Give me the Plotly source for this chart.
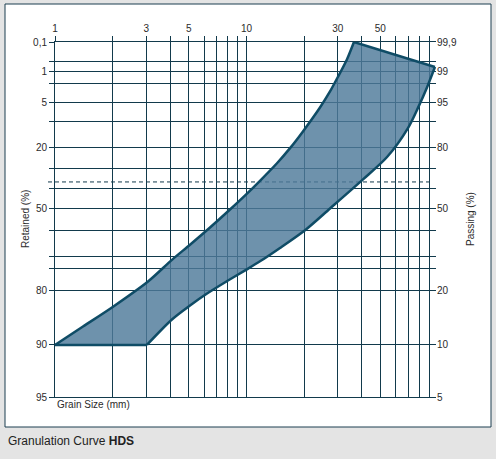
import numpy as np
import plotly.graph_objects as go

# grain size grid (mm), log scale
size_grid = [1, 2, 3, 4, 5, 6, 7, 8, 9, 10, 20, 30, 40, 50, 60, 70, 80, 90]
size_labels = ['1', '', '3', '', '5', '', '', '', '', '10', '', '30', '', '50', '', '', '', '']

# RRSB grid, retained % (left) / passing % (right)
retained_major = [0.1, 1, 5, 20, 50, 80, 90, 95]
retained_labels = ['0,1', '1', '5', '20', '50', '80', '90', '95']
passing_labels = ['99,9', '99', '95', '80', '50', '20', '10', '5']
retained_minor = [0.5, 2, 10, 30, 40, 60, 70, 74]
retained_char = 36.79  # dashed line (63.2 % passing)

# band limits
fine_size = [1, 1.4, 2.01, 3.06, 4.08, 5.07, 6.45, 8.2, 10.06, 11.76, 14.43, 16.88,
             19.72, 24.2, 27.3, 30.05, 33.5, 36.4]
fine_retained = [90, 87.3, 83.65, 77.66, 71.1, 65.7, 58.7, 50.5, 42.7, 36.2, 27.4, 20.3,
                 13.4, 6.1, 3.05, 1.39, 0.43, 0.1]
coarse_size = [96.4, 87.6, 78.6, 69.7, 54.2, 40.6, 27.3, 20.45, 14.96, 11.76, 9.94,
               8.01, 6.14, 5.07, 4.08, 3.02]
coarse_retained = [0.75, 2.5, 6.2, 12.2, 24.4, 35.5, 50.0, 59.5, 66.9, 71.6, 74.3,
                   77.4, 80.9, 83.4, 86.1, 90]


def rrsb(r):
    # RRSB ordinate: ln(1/R), shown on a log axis
    return np.log(100.0 / np.asarray(r, dtype=float))


grid_col = '#123a4c'
edge_col = '#0f4c66'
text_col = '#2b2b2b'
yr = [float(np.log10(rrsb(95))), float(np.log10(rrsb(0.1)))]
xr = [0, 1.9896]
W, H = 381.0, 355.0

band_x = fine_size + coarse_size + [fine_size[0]]
band_y = rrsb(fine_retained + coarse_retained + [fine_retained[0]])

fig = go.Figure()
# filled band
fig.add_trace(go.Scatter(x=band_x, y=band_y, mode='lines', fill='toself',
                         fillcolor='rgba(78,122,154,0.82)',
                         line=dict(width=0), showlegend=False, hoverinfo='skip'))
# outlines
fig.add_trace(go.Scatter(x=fine_size, y=rrsb(fine_retained), mode='lines',
                         line=dict(color=edge_col, width=2.5, shape='spline', smoothing=0.8),
                         showlegend=False, hoverinfo='skip'))
fig.add_trace(go.Scatter(x=coarse_size, y=rrsb(coarse_retained), mode='lines',
                         line=dict(color=edge_col, width=2.5, shape='spline', smoothing=0.8),
                         showlegend=False, hoverinfo='skip'))
fig.add_trace(go.Scatter(x=[fine_size[-1], coarse_size[0], None, coarse_size[-1], fine_size[0]],
                         y=list(rrsb([fine_retained[-1], coarse_retained[0]])) + [None]
                         + list(rrsb([coarse_retained[-1], fine_retained[0]])),
                         mode='lines', line=dict(color=edge_col, width=2.5),
                         showlegend=False, hoverinfo='skip'))
fig.add_trace(go.Scatter(x=[1], y=[1], yaxis='y2', mode='markers',
                         marker=dict(opacity=0), showlegend=False, hoverinfo='skip'))

ypos_char = (float(np.log10(rrsb(retained_char))) - yr[0]) / (yr[1] - yr[0])

fig.update_layout(
    width=496, height=459,
    margin=dict(l=55, r=60, t=42, b=62),
    paper_bgcolor='#e4e4e4', plot_bgcolor='white',
    font=dict(family='Liberation Sans, Arial', size=10, color=text_col),
    hovermode=False,
    xaxis=dict(type='log', range=xr, side='top',
               tickvals=size_grid, ticktext=size_labels,
               ticks='outside', ticklen=5, tickcolor=grid_col,
               showgrid=True, gridcolor=grid_col, gridwidth=1,
               showline=True, mirror=True, linecolor=grid_col, linewidth=1,
               zeroline=False),
    yaxis=dict(type='log', range=yr,
               tickvals=list(rrsb(retained_major + retained_minor)),
               ticktext=retained_labels + [''] * len(retained_minor),
               ticks='outside', ticklen=5, tickcolor=grid_col,
               showgrid=True, gridcolor=grid_col, gridwidth=1,
               showline=True, linecolor=grid_col, linewidth=1,
               zeroline=False),
    yaxis2=dict(type='log', range=yr, overlaying='y', side='right',
                tickvals=list(rrsb(retained_major)), ticktext=passing_labels,
                ticks='', showgrid=False, showline=False, zeroline=False),
    shapes=[
        dict(type='rect', xref='paper', yref='paper', layer='below',
             x0=(5 - 55) / W, x1=(491 - 55) / W, y0=(397 - 427) / H, y1=(397 - 4) / H,
             fillcolor='white', line=dict(color='#1c3f50', width=1)),
        dict(type='line', xref='paper', yref='paper', layer='below',
             x0=-7 / W, x1=(433 - 55) / W, y0=ypos_char, y1=ypos_char,
             line=dict(color=grid_col, width=1, dash='4px,3px')),
    ],
    annotations=[
        dict(text='Retained (%)', xref='paper', yref='paper', x=(18 - 55) / W, y=0.5,
             textangle=-90, showarrow=False, font=dict(size=10)),
        dict(text='Passing (%)', xref='paper', yref='paper', x=(478 - 55) / W, y=0.5,
             textangle=-90, showarrow=False, font=dict(size=10)),
        dict(text='Grain Size (mm)', xref='paper', yref='paper', x=0, y=(397 - 412) / H,
             xanchor='left', showarrow=False, font=dict(size=10)),
        dict(text='Granulation Curve <b>HDS</b>', xref='paper', yref='paper',
             x=(6 - 55) / W, y=(397 - 450) / H, xanchor='left', showarrow=False,
             font=dict(size=12, color='#222222')),
    ],
)

fig.write_html('out.html', config={'displayModeBar': False},
               post_script="document.body.style.margin='0px';")
